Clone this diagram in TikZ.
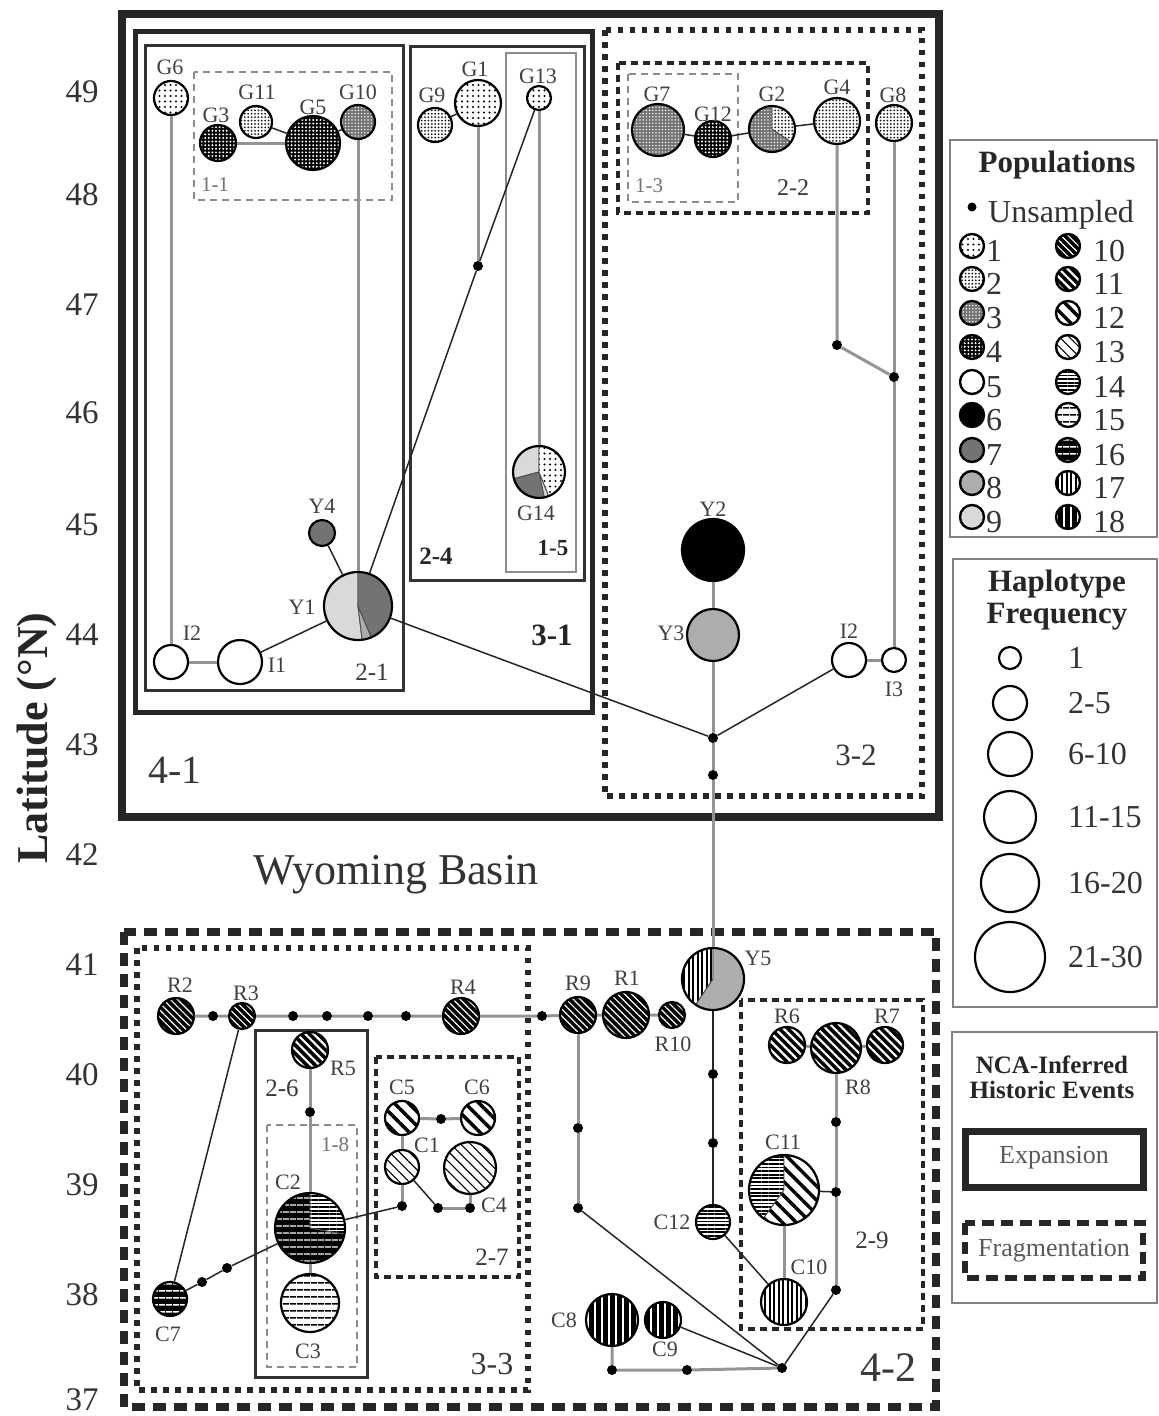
\documentclass[tikz,border=0pt]{standalone}
\usepackage{fontspec}
\setmainfont{Liberation Serif}
\usetikzlibrary{patterns.meta}
\newcommand\setfs[1]{\fontsize{#1}{#1}\selectfont}
\newcommand\pieslice[5]{\path[#5,draw=black!70,line width=0.9pt] (#1) -- ++(-#3:#2) arc[start angle=-#3,end angle=-#4,radius=#2] -- cycle;}
\tikzset{
 pop1/.style={preaction={fill=white},pattern={Dots[radius=1.1pt,distance=5.5pt]},pattern color=black},
 pop2/.style={preaction={fill=white},pattern={Dots[radius=1pt,distance=3.4pt]},pattern color=black!90},
 pop3/.style={preaction={fill=black!55},pattern={Dots[radius=0.8pt,distance=3.2pt]},pattern color=white},
 pop4/.style={preaction={fill=black},pattern={Dots[radius=1.1pt,distance=3.6pt]},pattern color=white},
 pop5/.style={fill=white},
 pop6/.style={fill=black},
 pop7/.style={fill=black!55},
 pop8/.style={fill=black!32},
 pop9/.style={fill=black!15},
 pop10/.style={preaction={fill=black},pattern={Lines[angle=-45,distance=5pt,line width=1.2pt]},pattern color=white},
 pop11/.style={preaction={fill=black},pattern={Lines[angle=-45,distance=6pt,line width=2.2pt]},pattern color=white},
 pop12/.style={preaction={fill=white},pattern={Lines[angle=-45,distance=10pt,line width=3.5pt]},pattern color=black},
 pop13/.style={preaction={fill=white},pattern={Lines[angle=-45,distance=7pt,line width=1.1pt]},pattern color=black},
 pop14/.style={preaction={fill=white},pattern={Lines[angle=0,distance=3.6pt,line width=1.8pt]},pattern color=black},
 pop15/.style={preaction={fill=white},pattern={Lines[angle=0,distance=6.5pt,line width=1.5pt]},pattern color=black},
 pop16/.style={preaction={fill=black},pattern={Lines[angle=0,distance=6.5pt,line width=1.5pt]},pattern color=white},
 pop17/.style={preaction={fill=white},pattern={Lines[angle=90,distance=4.5pt,line width=2pt]},pattern color=black},
 pop18/.style={preaction={fill=black},pattern={Lines[angle=90,distance=7pt,line width=2pt]},pattern color=white},
 hap/.style={circle,draw=black,line width=2.2pt,inner sep=0pt,minimum size={#1*2pt}},
 ud/.style={circle,fill=black,inner sep=0pt,minimum size=10pt},
 gl/.style={draw=black!42,line width=3pt},
 dl/.style={draw=black!85,line width=1.5pt},
 lab/.style={font=\setfs{22},text=black!75,inner sep=0pt},
 blab/.style={font=\setfs{#1},text=black!78,inner sep=0pt},
 bblab/.style={font=\bfseries\setfs{#1},text=black!85,inner sep=0pt},
 axnum/.style={font=\setfs{33},text=black!80,inner sep=0pt},
 legtxt/.style={font=\setfs{32},text=black!80,inner sep=0pt},
 box41/.style={draw=black!85,line width=8pt},
 box31/.style={draw=black!85,line width=5pt},
 box2s/.style={draw=black!80,line width=3pt},
 box15/.style={draw=black!45,line width=2pt},
 gdash/.style={draw=black!45,line width=2.5pt,dash pattern=on 7pt off 5pt},
 bdash/.style={draw=black!85,line width=3.5pt,dash pattern=on 7pt off 5pt},
 dotbox/.style={draw=black!85,line width=5.5pt,dash pattern=on 5.5pt off 6.5pt},
 bigdash/.style={draw=black!85,line width=8pt,dash pattern=on 13pt off 8pt},
 legbox/.style={draw=black!50,line width=2pt}
}
\begin{document}
\begin{tikzpicture}[x=1pt,y=-1pt]
\fill[white] (0,0) rectangle (1159,1416);
\useasboundingbox (0,0) rectangle (1159,1416);

% ---------- boxes ----------
\draw[box41] (122,14) rectangle (939,817);
\draw[box31] (135,31) rectangle (592,712);
\draw[box2s] (145,45) rectangle (403,690);
\draw[box2s] (410,46) rectangle (584,580);
\draw[box15] (506,53) rectangle (576,572);
\draw[gdash] (194,72) rectangle (392,200);
\draw[dotbox] (605,30) rectangle (922,796);
\draw[bdash] (618,63) rectangle (868,213);
\draw[gdash] (628,74) rectangle (738,202);
\draw[bigdash] (124,932) rectangle (936,1407);
\draw[dotbox] (137,948) rectangle (528,1390);
\draw[box2s] (255,1030) rectangle (367,1377);
\draw[gdash] (267,1125) rectangle (357,1367);
\draw[bdash] (376,1057) rectangle (519,1277);
\draw[bdash] (741,1000) rectangle (923,1329);

% ---------- box labels ----------
\node[blab=40] (b41) at (175,770) {4-1};
\node[bblab=31] (b31) at (552,635) {3-1};
\node[blab=25] (b21) at (372,672) {2-1};
\node[bblab=25] (b24) at (436,556) {2-4};
\node[bblab=23] (b15) at (553,548) {1-5};
\node[blab=21,text=black!55] (b11) at (215,185) {1-1};
\node[blab=21,text=black!55] (b13) at (649,186) {1-3};
\node[blab=24] (b22) at (793,188) {2-2};
\node[blab=31] (b32) at (856,755) {3-2};
\node[blab=44,text=black!80] (wb) at (396,875) {Wyoming Basin};
\node[blab=32] (b33) at (492,1364) {3-3};
\node[blab=42] (b42) at (888,1368) {4-2};
\node[blab=25] (b26) at (282,1088) {2-6};
\node[blab=21,text=black!55] (b18) at (335,1145) {1-8};
\node[blab=25] (b27) at (492,1257) {2-7};
\node[blab=25] (b29) at (872,1240) {2-9};

% ---------- axis ----------
\node[font=\bfseries\setfs{44},text=black!85,rotate=90,inner sep=0pt] (lat) at (37,738) {Latitude (°N)};
\foreach \v/\yy in {49/92,48/195,47/305,46/413,45/525,44/635,43/745,42/855,41/965,40/1075,39/1185,38/1295,37/1400}
  \node[axnum] (ax\v) at (82,\yy) {\v};

% ---------- pies ----------
\pieslice{358,606}{34}{90}{277}{pop9}
\pieslice{358,606}{34}{277}{293}{pop8}
\pieslice{358,606}{34}{293}{450}{pop7}
\pieslice{539,472}{26}{90}{195}{pop9}
\pieslice{539,472}{26}{195}{282}{pop7}
\pieslice{539,472}{26}{282}{292}{pop9}
\pieslice{539,472}{26}{292}{450}{pop1}
\pieslice{772,129}{23}{90}{326}{pop3}
\pieslice{772,129}{23}{326}{450}{pop2}
\pieslice{713,979}{31}{90}{236}{pop17}
\pieslice{713,979}{31}{236}{450}{pop8}
\pieslice{310,1228}{35}{90}{350}{pop16}
\pieslice{310,1228}{35}{350}{450}{pop14}
\pieslice{784,1190}{35}{90}{234}{pop14}
\pieslice{784,1190}{35}{234}{450}{pop12}

% ---------- haplotype nodes (top) ----------
\node[hap=17,pop1] (G6) at (171,98) {};
\node[hap=18,pop4] (G3) at (218,143) {};
\node[hap=16,pop2] (G11) at (256,122) {};
\node[hap=27,pop4] (G5) at (313,143) {};
\node[hap=17,pop3] (G10) at (358,122) {};
\node[hap=17,pop5] (I2a) at (171,662) {};
\node[hap=22,pop5] (I1) at (240,662) {};
\node[hap=34] (Y1) at (358,606) {};
\node[hap=13,pop7] (Y4) at (322,533) {};
\node[hap=17,pop2] (G9) at (435,125) {};
\node[hap=23,pop1] (G1) at (478,103) {};
\node[hap=12,pop1] (G13) at (539,98) {};
\node[ud] (dG1) at (478,266) {};
\node[hap=26] (G14) at (539,472) {};
\node[hap=26,pop3] (G7) at (658,130) {};
\node[hap=18,pop4] (G12) at (713,139) {};
\node[hap=23] (G2) at (772,129) {};
\node[hap=23,pop2] (G4) at (837,121) {};
\node[hap=18,pop2] (G8) at (894,123) {};
\node[ud] (dG4) at (837,345) {};
\node[ud] (dG8) at (894,377) {};
\node[hap=17,pop5] (I2b) at (849,660) {};
\node[hap=12,pop5] (I3) at (894,660) {};
\node[hap=31,pop6] (Y2) at (713,550) {};
\node[hap=26,pop8] (Y3) at (713,635) {};
\node[ud] (dA) at (713,738) {};
\node[ud] (dB) at (713,775) {};

% ---------- haplotype nodes (bottom) ----------
\node[hap=31] (Y5) at (713,979) {};
\node[hap=18,pop10] (R2) at (176,1016) {};
\node[ud] (dR1) at (213,1016) {};
\node[hap=13,pop10] (R3) at (242,1016) {};
\node[ud] (dR2) at (293,1016) {};
\node[ud] (dR3) at (327,1016) {};
\node[ud] (dR4) at (368,1016) {};
\node[ud] (dR5) at (406,1016) {};
\node[hap=18,pop10] (R4) at (461,1016) {};
\node[ud] (dR6) at (542,1016) {};
\node[hap=18,pop10] (R9) at (578,1015) {};
\node[hap=23,pop10] (R1) at (626,1015) {};
\node[hap=13,pop10] (R10) at (672,1015) {};
\node[hap=18,pop11] (R5) at (310,1050) {};
\node[ud] (dR5b) at (310,1112) {};
\node[hap=35] (C2) at (310,1228) {};
\node[hap=29,pop15] (C3) at (310,1303) {};
\node[hap=17,pop16] (C7) at (170,1299) {};
\node[ud] (dC7a) at (202,1282) {};
\node[ud] (dC7b) at (227,1268) {};
\node[hap=17,pop12] (C5) at (402,1118) {};
\node[ud] (dC5) at (441,1119) {};
\node[hap=17,pop12] (C6) at (478,1118) {};
\node[hap=17,pop13] (C1) at (402,1167) {};
\node[ud] (dC1) at (402,1206) {};
\node[ud] (dC4a) at (438,1208) {};
\node[ud] (dC4b) at (470,1208) {};
\node[hap=26,pop13] (C4) at (470,1168) {};
\node[ud] (dY1) at (713,1074) {};
\node[ud] (dY2) at (713,1143) {};
\node[hap=17,pop14] (C12) at (713,1222) {};
\node[hap=18,pop11] (R6) at (787,1045) {};
\node[hap=25,pop11] (R8) at (836,1048) {};
\node[hap=18,pop11] (R7) at (885,1045) {};
\node[ud] (dR8a) at (836,1122) {};
\node[ud] (dR8b) at (836,1192) {};
\node[ud] (dR8c) at (836,1290) {};
\node[hap=35] (C11) at (784,1190) {};
\node[hap=23,pop17] (C10) at (784,1302) {};
\node[ud] (dR9a) at (578,1128) {};
\node[ud] (dR9b) at (578,1208) {};
\node[ud] (hub) at (782,1368) {};
\node[hap=26,pop18] (C8) at (612,1320) {};
\node[hap=18,pop18] (C9) at (663,1320) {};
\node[ud] (dC8a) at (612,1370) {};
\node[ud] (dC8b) at (687,1370) {};

% ---------- node labels ----------
\node[lab] (lG6) at (170,67) {G6};
\node[lab] (lG3) at (216,115) {G3};
\node[lab] (lG11) at (257,92) {G11};
\node[lab] (lG5) at (313,107) {G5};
\node[lab] (lG10) at (358,92) {G10};
\node[lab] (lI2a) at (192,633) {I2};
\node[lab] (lI1) at (277,665) {I1};
\node[lab] (lY1) at (302,607) {Y1};
\node[lab] (lY4) at (322,506) {Y4};
\node[lab] (lG9) at (432,95) {G9};
\node[lab] (lG1) at (475,69) {G1};
\node[lab] (lG13) at (538,76) {G13};
\node[lab] (lG14) at (536,513) {G14};
\node[lab] (lG7) at (657,94) {G7};
\node[lab] (lG12) at (713,114) {G12};
\node[lab] (lG2) at (772,94) {G2};
\node[lab] (lG4) at (837,87) {G4};
\node[lab] (lG8) at (893,95) {G8};
\node[lab] (lI2b) at (849,631) {I2};
\node[lab] (lI3) at (894,689) {I3};
\node[lab] (lY2) at (713,509) {Y2};
\node[lab] (lY3) at (671,633) {Y3};
\node[lab] (lY5) at (758,958) {Y5};
\node[lab] (lR2) at (180,985) {R2};
\node[lab] (lR3) at (246,993) {R3};
\node[lab] (lR4) at (463,987) {R4};
\node[lab] (lR9) at (578,983) {R9};
\node[lab] (lR1) at (627,978) {R1};
\node[lab] (lR10) at (673,1044) {R10};
\node[lab] (lR5) at (343,1068) {R5};
\node[lab] (lC2) at (288,1182) {C2};
\node[lab] (lC3) at (308,1351) {C3};
\node[lab] (lC7) at (168,1334) {C7};
\node[lab] (lC5) at (402,1087) {C5};
\node[lab] (lC6) at (477,1087) {C6};
\node[lab] (lC1) at (427,1145) {C1};
\node[lab] (lC4) at (494,1205) {C4};
\node[lab] (lC12) at (672,1222) {C12};
\node[lab] (lR6) at (787,1016) {R6};
\node[lab] (lR7) at (887,1016) {R7};
\node[lab] (lR8) at (858,1087) {R8};
\node[lab] (lC11) at (783,1142) {C11};
\node[lab] (lC10) at (809,1267) {C10};
\node[lab] (lC8) at (564,1320) {C8};
\node[lab] (lC9) at (665,1349) {C9};

% ---------- connectors ----------
\draw[gl] (G3) -- (G5);
\draw[dl] (G11) -- (G5);
\draw[dl] (G5) -- (G10);
\draw[gl] (G6) -- (I2a);
\draw[gl] (G10) -- (Y1);
\draw[gl] (I2a) -- (I1);
\draw[dl] (I1) -- (Y1);
\draw[dl] (Y4) -- (Y1);
\draw[dl] (G9) -- (G1);
\draw[gl] (G1) -- (dG1);
\draw[dl] (G13) -- (dG1) -- (Y1);
\draw[gl] (G13) -- (G14);
\draw[dl] (G7) -- (G12) -- (G2) -- (G4);
\draw[gl] (G4) -- (dG4) -- (dG8);
\draw[gl] (G8) -- (dG8) -- (I3);
\draw[gl] (I2b) -- (I3);
\draw[dl] (I2b) -- (dA);
\draw[gl] (Y2) -- (Y3) -- (dA) -- (dB) -- (Y5);
\draw[dl] (Y1) -- (dA);
\draw[gl] (R2) -- (dR1) -- (R3) -- (dR2) -- (dR3) -- (dR4) -- (dR5) -- (R4) -- (dR6) -- (R9) -- (R1) -- (R10);
\draw[dl] (R3) -- (C7);
\draw[dl] (C7) -- (dC7a) -- (dC7b) -- (C2);
\draw[dl] (C2) -- (dC1);
\draw[gl] (R5) -- (dR5b) -- (C2);
\draw[gl] (C2) -- (C3);
\draw[gl] (C5) -- (dC5) -- (C6);
\draw[gl] (C5) -- (C1) -- (dC1);
\draw[dl] (C1) -- (dC4a);
\draw[gl] (dC4a) -- (dC4b) -- (C4);
\draw[dl] (Y5) -- (dY1) -- (dY2) -- (C12);
\draw[gl] (R6) -- (R8) -- (R7);
\draw[gl] (R8) -- (dR8a) -- (dR8b) -- (dR8c);
\draw[dl] (C11) -- (dR8b);
\draw[gl] (C11) -- (C10);
\draw[dl] (C12) -- (C10);
\draw[dl] (dR8c) -- (hub);
\draw[gl] (R9) -- (dR9a) -- (dR9b);
\draw[dl] (dR9b) -- (hub);
\draw[dl] (C9) -- (hub);
\draw[gl] (C8) -- (dC8a) -- (dC8b) -- (hub);

% ---------- legend: populations ----------
\draw[legbox] (950,140) rectangle (1157,537);
\node[font=\bfseries\setfs{31},text=black!85,inner sep=0pt] (tpop) at (1057,165) {Populations};
\node[ud,minimum size=9pt] (lud) at (972,207) {};
\node[legtxt,anchor=west] (tud) at (988,215) {Unsampled};
\node[hap=12,line width=2.4pt,pop1] (lp1) at (972,246) {};
\node[hap=12,line width=2.4pt,pop2] (lp2) at (972,279) {};
\node[hap=12,line width=2.4pt,pop3] (lp3) at (972,313) {};
\node[hap=12,line width=2.4pt,pop4] (lp4) at (972,347) {};
\node[hap=12,line width=2.4pt,pop5] (lp5) at (972,382) {};
\node[hap=12,line width=2.4pt,pop6] (lp6) at (972,415) {};
\node[hap=12,line width=2.4pt,pop7] (lp7) at (972,450) {};
\node[hap=12,line width=2.4pt,pop8] (lp8) at (972,483) {};
\node[hap=12,line width=2.4pt,pop9] (lp9) at (972,517) {};
\node[hap=12,line width=2.4pt,pop10] (lp10) at (1068,246) {};
\node[hap=12,line width=2.4pt,pop11] (lp11) at (1068,279) {};
\node[hap=12,line width=2.4pt,pop12] (lp12) at (1068,313) {};
\node[hap=12,line width=2.4pt,pop13] (lp13) at (1068,347) {};
\node[hap=12,line width=2.4pt,pop14] (lp14) at (1068,382) {};
\node[hap=12,line width=2.4pt,pop15] (lp15) at (1068,415) {};
\node[hap=12,line width=2.4pt,pop16] (lp16) at (1068,450) {};
\node[hap=12,line width=2.4pt,pop17] (lp17) at (1068,483) {};
\node[hap=12,line width=2.4pt,pop18] (lp18) at (1068,517) {};
\foreach \i/\yy in {1/246,2/279,3/313,4/347,5/382,6/415,7/450,8/483,9/517}
  \node[legtxt,anchor=west] (lt\i) at (986,\yy+5) {\i};
\foreach \i/\yy in {10/246,11/279,12/313,13/347,14/382,15/415,16/450,17/483,18/517}
  \node[legtxt,anchor=west] (lt\i) at (1093,\yy+5) {\i};

% ---------- legend: haplotype frequency ----------
\draw[legbox] (953,559) rectangle (1157,1007);
\node[font=\bfseries\setfs{31},text=black!85,inner sep=0pt,align=center] (thf) at (1057,600) {Haplotype\\[1pt]Frequency};
\node[hap=11,line width=2.2pt,fill=white] (f1) at (1010,658) {};
\node[hap=17,line width=2.2pt,fill=white] (f2) at (1010,703) {};
\node[hap=22,line width=2.2pt,fill=white] (f3) at (1010,754) {};
\node[hap=26,line width=2.2pt,fill=white] (f4) at (1010,817) {};
\node[hap=29,line width=2.2pt,fill=white] (f5) at (1010,883) {};
\node[hap=35,line width=2.2pt,fill=white] (f6) at (1010,957) {};
\node[legtxt,anchor=west] (tf1) at (1068,658) {1};
\node[legtxt,anchor=west] (tf2) at (1068,703) {2-5};
\node[legtxt,anchor=west] (tf3) at (1068,754) {6-10};
\node[legtxt,anchor=west] (tf4) at (1068,817) {11-15};
\node[legtxt,anchor=west] (tf5) at (1068,883) {16-20};
\node[legtxt,anchor=west] (tf6) at (1068,957) {21-30};

% ---------- legend: NCA ----------
\draw[legbox] (952,1032) rectangle (1157,1303);
\node[font=\bfseries\setfs{25},text=black!85,inner sep=0pt,align=center] (tnca) at (1052,1077) {NCA-Inferred\\Historic Events};
\draw[draw=black!85,line width=7pt] (965,1131) rectangle (1143,1187);
\node[blab=26,text=black!65] (texp) at (1054,1158) {Expansion};
\draw[draw=black!85,line width=6pt,dash pattern=on 12pt off 7pt] (965,1223) rectangle (1143,1278);
\node[blab=26,text=black!65] (tfrag) at (1054,1251) {Fragmentation};
\end{tikzpicture}
\end{document}
